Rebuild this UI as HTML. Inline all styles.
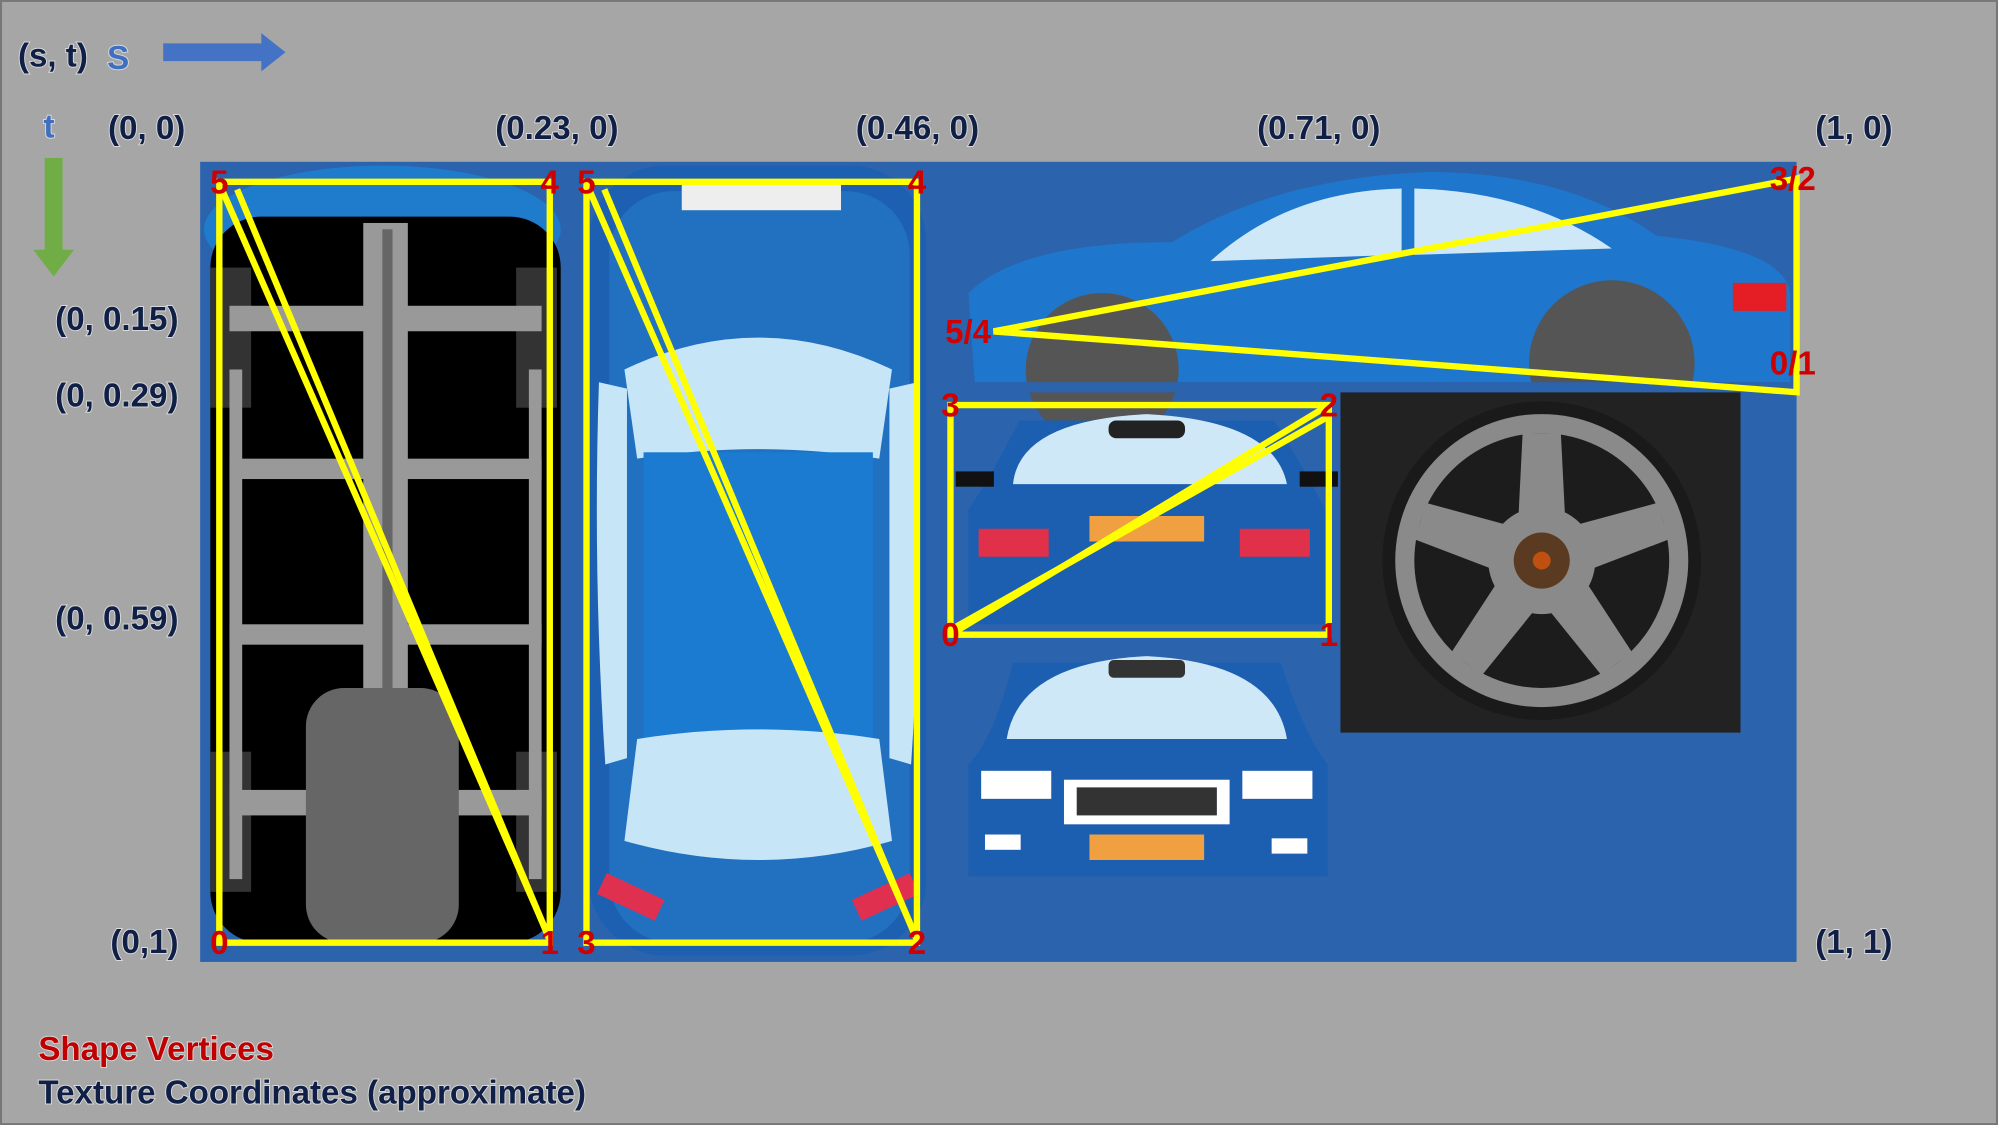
<!DOCTYPE html>
<html><head><meta charset="utf-8">
<style>
html,body{margin:0;padding:0;background:#a6a6a6;}
svg{display:block;}
.lbl{font-family:"Liberation Sans Narrow","Liberation Sans",sans-serif;font-weight:bold;font-size:26px;fill:#0f1f45;paint-order:stroke;stroke:#d8d8d8;stroke-width:1.5px;}
.vtx{font-family:"Liberation Sans Narrow","Liberation Sans",sans-serif;font-weight:bold;font-size:26px;fill:#d00000;}
</style></head>
<body>
<svg id="fig" width="1998" height="1125" viewBox="0 0 1568 883" xmlns="http://www.w3.org/2000/svg">
<rect x="0" y="0" width="1568" height="883" fill="#a6a6a6" stroke="#777" stroke-width="3"/>
<g>
<text class="lbl" x="14" y="52">(s, t)</text>
<text class="lbl" x="84" y="54" style="fill:#3e6fc0">S</text>
<polygon points="128,34 205,34 205,26 224,41 205,56 205,48 128,48" fill="#4472c4"/>
<text class="lbl" x="34" y="108" style="fill:#3e6fc0">t</text>
<polygon points="35,124 49,124 49,196 58,196 42,217 26,196 35,196" fill="#70ad47"/>
</g>
<g>
<text class="lbl" x="115" y="109" text-anchor="middle">(0, 0)</text>
<text class="lbl" x="437" y="109" text-anchor="middle">(0.23, 0)</text>
<text class="lbl" x="720" y="109" text-anchor="middle">(0.46, 0)</text>
<text class="lbl" x="1035" y="109" text-anchor="middle">(0.71, 0)</text>
<text class="lbl" x="1455" y="109" text-anchor="middle">(1, 0)</text>
<text class="lbl" x="140" y="259" text-anchor="end">(0, 0.15)</text>
<text class="lbl" x="140" y="319" text-anchor="end">(0, 0.29)</text>
<text class="lbl" x="140" y="494" text-anchor="end">(0, 0.59)</text>
<text class="lbl" x="140" y="748" text-anchor="end">(0,1)</text>
<text class="lbl" x="1455" y="748" text-anchor="middle">(1, 1)</text>
</g>
<g id="texture">
<rect x="157" y="127" width="1253" height="628" fill="#2b63ad"/>
<g>
<ellipse cx="300" cy="180" rx="140" ry="50" fill="#1f7ccc"/>
<rect x="165" y="170" width="275" height="570" rx="40" fill="#000"/>
<rect x="165" y="210" width="32" height="110" fill="#333"/><rect x="405" y="210" width="32" height="110" fill="#333"/>
<rect x="165" y="590" width="32" height="110" fill="#333"/><rect x="405" y="590" width="32" height="110" fill="#333"/>
<rect x="180" y="240" width="245" height="20" fill="#999"/><rect x="180" y="360" width="245" height="16" fill="#999"/>
<rect x="180" y="490" width="245" height="16" fill="#999"/><rect x="180" y="620" width="245" height="20" fill="#999"/>
<rect x="285" y="175" width="35" height="560" fill="#999"/>
<rect x="300" y="180" width="8" height="540" fill="#666"/>
<rect x="240" y="540" width="120" height="200" rx="30" fill="#666"/>
<rect x="180" y="290" width="10" height="400" fill="#999"/><rect x="415" y="290" width="10" height="400" fill="#999"/>
</g>
<g>
<rect x="462" y="130" width="265" height="620" rx="60" fill="#1d5fb0"/>
<rect x="478" y="150" width="236" height="590" rx="50" fill="#2270c0"/>
<path d="M490,290 Q595,240 700,290 L690,360 Q595,345 500,360 Z" fill="#c6e6f8"/>
<rect x="505" y="355" width="180" height="230" fill="#1a7bd0"/>
<path d="M500,580 Q595,565 690,580 L700,660 Q595,690 490,660 Z" fill="#c6e6f8"/>
<path d="M470,300 Q465,450 475,600 L492,595 L492,305 Z" fill="#c6e6f8"/>
<path d="M720,300 Q725,450 715,600 L698,595 L698,305 Z" fill="#c6e6f8"/>
<rect x="535" y="143" width="125" height="22" fill="#eee"/>
<rect x="470" y="695" width="50" height="18" fill="#e03050" transform="rotate(25 495 704)"/>
<rect x="670" y="695" width="50" height="18" fill="#e03050" transform="rotate(-25 695 704)"/>
</g>
<g>
<path d="M765,300 L760,230 Q800,190 920,190 Q1000,140 1120,135 Q1230,135 1300,185 Q1400,195 1405,230 L1405,300 Z" fill="#1e77cc"/>
<path d="M950,205 Q1010,150 1100,148 L1100,200 Z" fill="#cfe8f8"/>
<path d="M1110,148 Q1200,150 1265,195 L1110,200 Z" fill="#cfe8f8"/>
<circle cx="865" cy="290" r="60" fill="#555"/><circle cx="1265" cy="285" r="65" fill="#555"/>
<rect x="1360" y="222" width="42" height="22" fill="#e51d25"/>
<rect x="760" y="300" width="650" height="8" fill="#2b63ad"/>
</g>
<g>
<path d="M760,490 L760,400 Q780,370 800,330 L1000,330 Q1025,370 1040,400 L1040,490 Z" fill="#1c5fb0"/>
<path d="M795,380 Q800,330 900,325 Q1000,330 1010,380 Z" fill="#cfe8f8"/>
<rect x="870" y="330" width="60" height="14" rx="6" fill="#222"/>
<rect x="768" y="415" width="55" height="22" fill="#e0304a"/><rect x="973" y="415" width="55" height="22" fill="#e0304a"/>
<rect x="855" y="405" width="90" height="20" fill="#f0a040"/>
<rect x="750" y="370" width="30" height="12" fill="#111"/><rect x="1020" y="370" width="30" height="12" fill="#111"/>
</g>
<g>
<path d="M760,688 L760,600 Q780,580 795,520 L1005,520 Q1025,580 1042,600 L1042,688 Z" fill="#1c5fb0"/>
<path d="M790,580 Q800,520 900,515 Q1000,520 1010,580 Z" fill="#cfe8f8"/>
<rect x="870" y="518" width="60" height="14" rx="4" fill="#333"/>
<rect x="770" y="605" width="55" height="22" fill="#fff"/><rect x="975" y="605" width="55" height="22" fill="#fff"/>
<rect x="835" y="612" width="130" height="35" fill="#fff"/><rect x="845" y="618" width="110" height="22" fill="#333"/>
<rect x="855" y="655" width="90" height="20" fill="#f0a040"/>
<rect x="773" y="655" width="28" height="12" fill="#fff"/><rect x="998" y="658" width="28" height="12" fill="#fff"/>
</g>
<g>
<rect x="1052" y="308" width="314" height="267" fill="#222"/>
<circle cx="1210" cy="440" r="125" fill="#1a1a1a"/>
<circle cx="1210" cy="440" r="115" fill="#8a8a8a"/>
<circle cx="1210" cy="440" r="100" fill="#1c1c1c"/>
<g fill="#8a8a8a">
<polygon points="1190,440 1230,440 1225,340 1195,340"/>
<polygon points="1190,440 1230,440 1225,340 1195,340" transform="rotate(72 1210 440)"/>
<polygon points="1190,440 1230,440 1225,340 1195,340" transform="rotate(144 1210 440)"/>
<polygon points="1190,440 1230,440 1225,340 1195,340" transform="rotate(216 1210 440)"/>
<polygon points="1190,440 1230,440 1225,340 1195,340" transform="rotate(288 1210 440)"/>
</g>
<circle cx="1210" cy="440" r="42" fill="#8a8a8a"/>
<circle cx="1210" cy="440" r="22" fill="#5a3a20"/><circle cx="1210" cy="440" r="7" fill="#c05010"/>
</g>
</g>
<g id="overlay"></g>
<text class="lbl" x="30" y="832" style="fill:#c00000">Shape Vertices</text>
<text class="lbl" x="30" y="866">Texture Coordinates (approximate)</text>
</svg>
<script>
// mesh quads: vertex s,t values
const quadNames = ["undercarriage","top-view","side-view","back-view"];
const quadS = [[0.012,0.219,0.219,0.012],[0.242,0.449,0.449,0.242],[0.497,1.0,1.0,0.497],[0.470,0.707,0.707,0.470]];
const quadT = [[0.976,0.976,0.025,0.025],[0.976,0.976,0.025,0.025],[0.212,0.288,0.021,0.212],[0.591,0.591,0.304,0.304]];
const quadVertexLabels = [["0","1","4","5"],["3","2","4","5"],["5/4","0/1","3/2",""],["0","1","2","3"]];

const X0=157, W=1253, Y0=127, H=628;
function sx(s){return X0+s*W;}
function ty(t){return Y0+t*H;}
const NS="http://www.w3.org/2000/svg";
const ov=document.getElementById('overlay');

quadS.forEach((qs,qi)=>{
  const qt=quadT[qi];
  const p=qs.map((s,i)=>[sx(s),ty(qt[i])]);
  let d;
  if(qi===2){
    d=`M${p[0][0]},${p[0][1]} L${p[2][0]},${p[2][1]} L${p[1][0]},${p[1][1]} Z`;
  } else {
    d=`M${p[0][0]},${p[0][1]} L${p[1][0]},${p[1][1]} L${p[2][0]},${p[2][1]} L${p[3][0]},${p[3][1]} Z`;
  }
  const path=document.createElementNS(NS,'path');
  path.setAttribute('d',d);
  path.setAttribute('fill','none');path.setAttribute('stroke','#ffff00');path.setAttribute('stroke-width','5');
  
  
  ov.appendChild(path);
  if(qi!==2){
    let a,b;
    if(qi===3){a=p[0];b=p[2];} else {a=p[3];b=p[1];}
    const offs=qi===3?[[0,0,0,0],[4,-6,-2,10]]:[[2,6,-4,-12],[14,6,0,-2]];
    offs.forEach(o=>{
      const ln=document.createElementNS(NS,'line');
      ln.setAttribute('x1',a[0]+o[0]);ln.setAttribute('y1',a[1]+o[1]);
      ln.setAttribute('x2',b[0]+o[2]);ln.setAttribute('y2',b[1]+o[3]);
      ln.setAttribute('stroke','#ffff00');ln.setAttribute('stroke-width','5');
      
      
      ov.appendChild(ln);
    });
  }
  const vl=quadVertexLabels[qi];
  p.forEach((pt,i)=>{
    if(!vl[i])return;
    const t=document.createElementNS(NS,'text');
    t.setAttribute('class','vtx');
    let x=pt[0], y=pt[1]+9;
    if(qi===2){
      if(i===0){x=pt[0]-20;}
      else if(i===1){x=pt[0]-3;y=pt[1]-14;}
      else {x=pt[0]-3;y=pt[1]+9;}
    }
    t.setAttribute('x',x);t.setAttribute('y',y);
    t.setAttribute('text-anchor','middle');
    t.textContent=vl[i];
    
    
    ov.appendChild(t);
  });
});
</script>
</body></html>
